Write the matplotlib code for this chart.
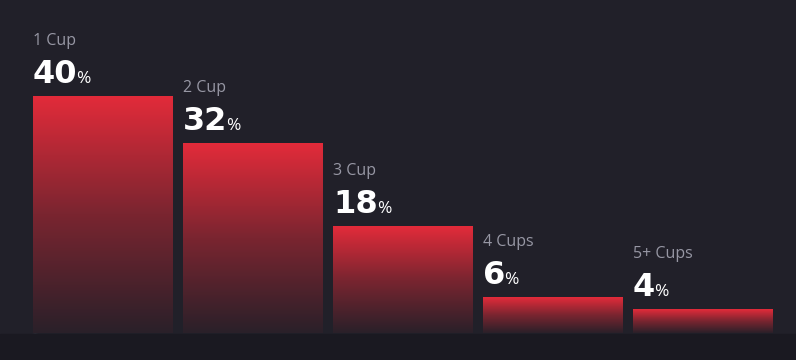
# Cups per day bar chart, dark theme with gradient bars
import numpy as np
import matplotlib.pyplot as plt
from matplotlib.patches import Rectangle
from matplotlib.colors import LinearSegmentedColormap

# data
categories = ["1 Cup", "2 Cup", "3 Cup", "4 Cups", "5+ Cups"]
shares = [40, 32, 18, 6, 4]

bg = "#212029"
band = "#1a1921"
grad = LinearSegmentedColormap.from_list("redfade", ["#2a2029", "#7a2530", "#e32b3a"])

fig = plt.figure(figsize=(7.96, 3.6), dpi=100, facecolor=bg)
ax = fig.add_axes([0, 0, 1, 1])
ax.set_facecolor(bg)
ax.axis("off")

# darker strip under the bars
ax.axhspan(-4.55, -0.15, color=band, zorder=0)

# faint decorative lines in the background
for x0, y0, x1, y1 in [(0, 0.04, 0.21, 0.20), (0.135, 0.0, 0.175, 0.07),
                       (0.405, 0.0, 0.46, 0.07), (0.80, 0.0, 0.92, 0.07)]:
    fig.add_artist(plt.Line2D([x0, x1], [y0, y1], color="#2a2933", lw=0.8, zorder=0))

width = 140 / 150
xs = np.arange(len(categories))
bars = ax.bar(xs, shares, width=width, color="none", zorder=2)

gradimg = np.linspace(0, 1, 256).reshape(-1, 1)
for b in bars:
    x0, h = b.get_x(), b.get_height()
    im = ax.imshow(gradimg, cmap=grad, origin="lower", aspect="auto",
                   extent=(x0, x0 + width, 0, h), zorder=2)
    im.set_clip_path(Rectangle((x0, 0), width, h, transform=ax.transData))

ax.set_xlim(-0.687, 4.62)
ax.set_ylim(-4.55, 56.15)

vals = []
for b, cat, v in zip(bars, categories, shares):
    x0, h = b.get_x(), b.get_height()
    ax.annotate(cat, xy=(x0, h), xytext=(0, 51), textcoords="offset pixels",
                ha="left", va="baseline", color="#9797a4", fontsize=11.5,
                family="Open Sans")
    t = ax.annotate(str(v), xy=(x0, h), xytext=(0, 13), textcoords="offset pixels",
                    ha="left", va="baseline", color="white", fontsize=23,
                    fontweight="bold", family="DejaVu Sans")
    vals.append((t, x0, h))

fig.canvas.draw()
r = fig.canvas.get_renderer()
for t, x0, h in vals:
    w = t.get_window_extent(r).width
    ax.annotate("%", xy=(x0, h), xytext=(w - 1, 13), textcoords="offset pixels",
                ha="left", va="baseline", color="white", fontsize=12.5,
                family="Open Sans")

fig.savefig("out.png", dpi=100, facecolor=bg)
